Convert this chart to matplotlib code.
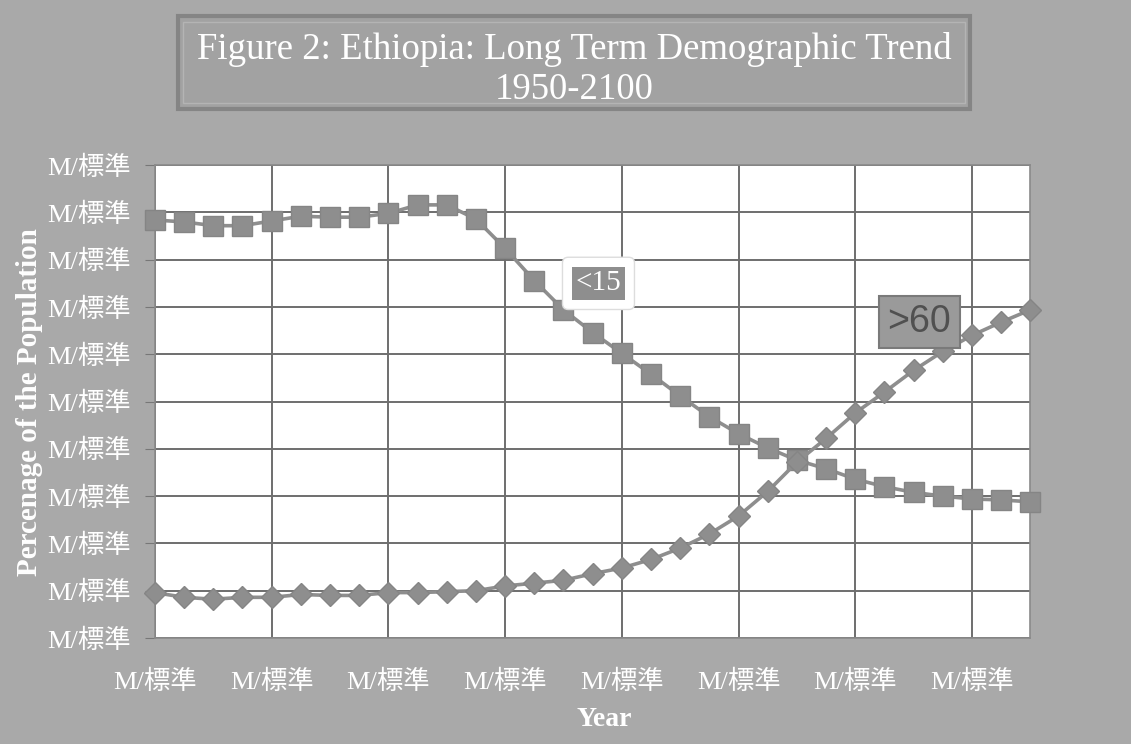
import numpy as np
import matplotlib.pyplot as plt
from matplotlib.patches import Rectangle

# Data: share of population by age group, Ethiopia, every 5 years
years = np.arange(1950, 2101, 5)
under15 = [44.2, 44.0, 43.6, 43.6, 44.1, 44.6, 44.5, 44.5, 44.9, 45.8, 45.8,
           44.3, 41.2, 37.8, 34.7, 32.3, 30.1, 27.9, 25.6, 23.4, 21.6,
           20.1, 18.8, 17.9, 16.8, 16.0, 15.4, 15.0, 14.7, 14.6, 14.4]
over60 = [4.8, 4.3, 4.1, 4.3, 4.3, 4.6, 4.5, 4.5, 4.8, 4.8, 4.9,
          5.0, 5.5, 5.8, 6.1, 6.8, 7.4, 8.3, 9.5, 11.0, 12.9,
          15.5, 18.6, 21.1, 23.8, 26.0, 28.3, 30.3, 32.0, 33.4, 34.7]
xticks = np.arange(1950, 2091, 20)
yticks = np.arange(0, 51, 5)
tick_label = "M/標準"

serif = ['Liberation Serif', 'Noto Sans CJK JP', 'DejaVu Serif']
bg = '#a9a9a9'
linecol = '#8e8e8e'

fig = plt.figure(figsize=(11.31, 7.44), dpi=100, facecolor=bg)
ax = fig.add_axes([0.137, 0.1425, 0.774, 0.6355])
ax.set_facecolor('white')

ax.plot(years, under15, color=linecol, lw=2.6, marker='s', ms=14,
        mec='#858585', mfc=linecol, zorder=3, clip_on=False)
ax.plot(years, over60, color=linecol, lw=2.6, marker='D', ms=11,
        mec='#858585', mfc=linecol, zorder=3, clip_on=False)

ax.set_xlim(1950, 2100)
ax.set_ylim(0, 50)
ax.set_xticks(xticks)
ax.set_yticks(yticks)
ax.set_xticklabels([tick_label] * len(xticks), family=serif, fontsize=19, color='white')
ax.set_yticklabels([tick_label] * len(yticks), family=serif, fontsize=19, color='white')
ax.tick_params(axis='y', length=7, color='#777777', pad=10)
ax.tick_params(axis='x', length=0, pad=23)
ax.grid(True, color='#6e6e6e', lw=1.4)
for s in ax.spines.values():
    s.set_color('#8a8a8a')
    s.set_linewidth(1.2)

ax.set_xlabel("Year", family=serif, fontsize=20, fontweight='bold', color='white')
ax.xaxis.set_label_coords(0.513, -0.146)
ax.set_ylabel("Percenage of the Population", family=serif, fontsize=21, fontweight='bold',
              color='white')
ax.yaxis.set_label_coords(-0.128, 0.5)

# series labels: "<15" sits in a white rounded box, ">60" in a plain grey box
ax.text(2026, 37.5, "<15", family=serif, fontsize=21, color='white',
        ha='center', va='center', zorder=4,
        bbox=dict(boxstyle='round,pad=0.45,rounding_size=0.2', fc='white', ec='#dddddd', lw=1))
ax.text(2026, 37.5, "<15", family=serif, fontsize=21, color='white',
        ha='center', va='center', zorder=5,
        bbox=dict(boxstyle='square,pad=0.12', fc='#8e8e8e', ec='none'))
ax.text(2081, 33.4, ">60", family='Liberation Sans', fontsize=27, color='#505050',
        ha='center', va='center', zorder=5,
        bbox=dict(boxstyle='square,pad=0.22', fc='#9a9a9a', ec='#7a7a7a', lw=1.5))

# title box
fig.patches.append(Rectangle((0.157, 0.854), 0.701, 0.124, transform=fig.transFigure,
                             fc='#a2a2a2', ec='#858585', lw=3))
fig.patches.append(Rectangle((0.162, 0.861), 0.691, 0.110, transform=fig.transFigure,
                             fc='none', ec='#b4b4b4', lw=1))
fig.text(0.508, 0.934, "Figure 2: Ethiopia: Long Term Demographic Trend", family=serif,
         fontsize=26.5, color='white', ha='center', va='center')
fig.text(0.508, 0.880, "1950-2100", family=serif, fontsize=26.5, color='white',
         ha='center', va='center')

fig.savefig('out.png', dpi=100, facecolor=bg)
